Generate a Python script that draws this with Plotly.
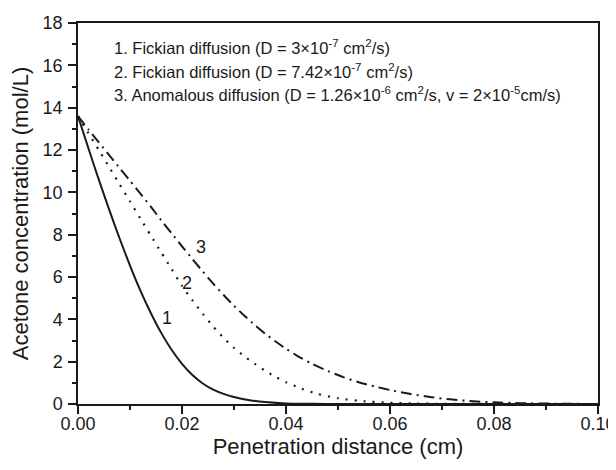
import plotly.graph_objects as go

# ---- data ----
x1 = [0, 0.002, 0.004, 0.006, 0.008, 0.010, 0.012, 0.014, 0.016, 0.018, 0.020, 0.022,
      0.024, 0.026, 0.028, 0.030, 0.033, 0.036, 0.040, 0.045, 0.050, 0.060, 0.080, 0.100]
y1 = [13.6, 12.08, 10.6, 9.18, 7.82, 6.54, 5.36, 4.3, 3.36, 2.56, 1.9, 1.37,
      0.97, 0.68, 0.48, 0.33, 0.18, 0.09, 0.025, 0.006, 0.0, 0.0, 0.0, 0.0]

x2 = [0, 0.002, 0.004, 0.006, 0.008, 0.010, 0.012, 0.014, 0.016, 0.018, 0.020, 0.022,
      0.024, 0.026, 0.028, 0.030, 0.032, 0.034, 0.036, 0.038, 0.040, 0.043, 0.046,
      0.050, 0.055, 0.060, 0.065, 0.070, 0.080, 0.090, 0.100]
y2 = [13.6, 12.8, 12.0, 11.19, 10.38, 9.57, 8.76, 7.96, 7.16, 6.38, 5.58, 4.9,
      4.26, 3.66, 3.12, 2.65, 2.25, 1.9, 1.57, 1.28, 1.03, 0.72, 0.48,
      0.27, 0.13, 0.06, 0.025, 0.01, 0.0, 0.0, 0.0]

x3 = [0, 0.002, 0.004, 0.006, 0.008, 0.010, 0.012, 0.014, 0.016, 0.018, 0.020, 0.022,
      0.024, 0.026, 0.028, 0.030, 0.032, 0.034, 0.036, 0.038, 0.040, 0.042, 0.045,
      0.048, 0.051, 0.054, 0.057, 0.060, 0.064, 0.068, 0.072, 0.076, 0.080, 0.085,
      0.090, 0.095, 0.100]
y3 = [13.6, 12.97, 12.36, 11.76, 11.15, 10.55, 9.94, 9.32, 8.68, 8.06, 7.45, 6.85,
      6.26, 5.69, 5.15, 4.64, 4.17, 3.73, 3.32, 2.95, 2.61, 2.3, 1.9,
      1.56, 1.27, 1.03, 0.83, 0.66, 0.47, 0.32, 0.21, 0.13, 0.08, 0.04,
      0.02, 0.01, 0.0]

curve_labels = ["1", "2", "3"]
label_x = [0.0171, 0.0209, 0.0236]
label_y = [4.05, 5.7, 7.42]

legend_lines = [
    "1. Fickian diffusion (D = 3×10<sup>-7</sup> cm<sup>2</sup>/s)",
    "2. Fickian diffusion (D = 7.42×10<sup>-7</sup> cm<sup>2</sup>/s)",
    "3. Anomalous diffusion (D = 1.26×10<sup>-6</sup> cm<sup>2</sup>/s, v = 2×10<sup>-5</sup>cm/s)",
]

x_ticks = [0.00, 0.02, 0.04, 0.06, 0.08, 0.10]
y_ticks = [0, 2, 4, 6, 8, 10, 12, 14, 16, 18]

FONT = "Liberation Sans"
INK = "#1a1a1a"

fig = go.Figure()
fig.add_trace(go.Scatter(x=x1, y=y1, mode="lines", line=dict(color=INK, width=2, shape="spline", smoothing=0.6)))
fig.add_trace(go.Scatter(x=x2, y=y2, mode="lines", line=dict(color=INK, width=2.2, dash="2px,7px", shape="spline", smoothing=0.6)))
fig.add_trace(go.Scatter(x=x3, y=y3, mode="lines", line=dict(color=INK, width=2, dash="11px,5px,2px,5px", shape="spline", smoothing=0.6)))

for t, lx, ly in zip(curve_labels, label_x, label_y):
    fig.add_annotation(x=lx, y=ly, text=t, showarrow=False, xanchor="center", yanchor="middle",
                       font=dict(family=FONT, size=18, color=INK))

leg_y = [0.938, 0.874, 0.813]
for t, py in zip(legend_lines, leg_y):
    fig.add_annotation(x=0.0648, y=py, xref="paper", yref="paper", text=t, showarrow=False,
                       xanchor="left", yanchor="middle", font=dict(family=FONT, size=16.5, color=INK))

axis_common = dict(showline=True, linecolor=INK, linewidth=1.5, mirror=True, ticks="outside",
                   ticklen=8, tickwidth=1.5, tickcolor=INK, showgrid=False, zeroline=False,
                   automargin=False, tickfont=dict(family=FONT, size=18, color=INK))

fig.update_xaxes(range=[0, 0.1], tickvals=x_ticks, ticktext=[f"{v:.2f}" for v in x_ticks],
                 ticklabelstandoff=-5,
                 minor=dict(ticks="outside", ticklen=4, tickwidth=1.5, tickcolor=INK, dtick=0.01, tick0=0),
                 title=dict(text="Penetration distance (cm)", font=dict(family=FONT, size=22, color=INK), standoff=0),
                 **axis_common)
fig.update_yaxes(range=[0, 18], tickvals=y_ticks, ticklabelstandoff=2,
                 minor=dict(ticks="outside", ticklen=4, tickwidth=1.5, tickcolor=INK, dtick=1, tick0=0),
                 title=dict(text="Acetone concentration (mol/L)", font=dict(family=FONT, size=22, color=INK), standoff=8),
                 **axis_common)

# page body has an 8px margin, so the figure is offset by (8, 8)
fig.update_layout(width=616, height=470, margin=dict(l=70, r=26, t=15, b=74, pad=0),
                  font=dict(family=FONT, color=INK),
                  paper_bgcolor="white", plot_bgcolor="white", showlegend=False)

fig.write_html("out.html")
